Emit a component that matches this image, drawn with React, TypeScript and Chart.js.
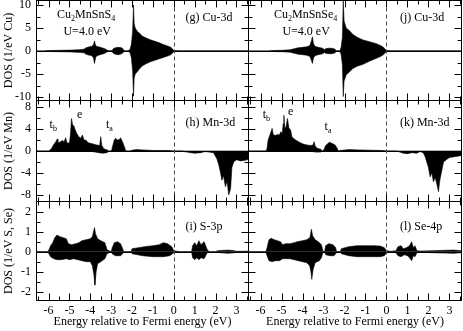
import React, { useEffect, useRef } from 'react';
import { Chart, registerables } from 'chart.js';

Chart.register(...registerables);

const SERIF = '"Liberation Serif", "Times New Roman", serif';

type Pt = [number, number];

// ---------- axes / ticks ----------
const energyTicks = [-6, -5, -4, -3, -2, -1, 0, 1, 2, 3];
const energyMinor = [-6.5, -5.5, -4.5, -3.5, -2.5, -1.5, -0.5, 0.5, 1.5, 2.5, 3.5];
const energyMin = -6.6;
const energyMax = 3.6;

const cuTicks = [-10, -5, 0, 5, 10];
const cuMinor = [-7.5, -2.5, 2.5, 7.5];
const mnTicks = [-8, -4, 0, 4, 8];
const mnMinor = [-6, -2, 2, 6];
const pTicks = [-2, -1, 0, 1, 2];
const pMinor = [-1.5, -0.5, 0.5, 1.5];

// ---------- data (energy eV, DOS) ----------
// (g) Cu-3d in Cu2MnSnS4
const cuS_up: Pt[] = [[-6.6,0],[-6.2,0],[-6.1,0.1],[-5.5,0.15],[-4.9,0.2],[-4.5,0.3],[-4.3,0.4],[-4.2,0.7],[-4.05,0.9],[-3.95,1.0],[-3.85,1.3],[-3.8,2.2],[-3.76,1.4],[-3.7,1.0],[-3.6,0.9],[-3.45,0.7],[-3.3,0.5],[-3.2,0.2],[-3.1,0.05],[-2.95,0.1],[-2.9,0.5],[-2.8,0.7],[-2.65,0.8],[-2.5,0.7],[-2.42,0.4],[-2.38,0.05],[-2.2,0.05],[-2.1,0.3],[-2.03,1.5],[-1.97,4.5],[-1.93,10],[-1.9,6],[-1.85,5],[-1.75,4.3],[-1.65,3.9],[-1.5,3.2],[-1.3,2.8],[-1.1,2.4],[-0.9,2.1],[-0.7,1.8],[-0.5,1.4],[-0.3,1.1],[-0.15,0.8],[-0.05,0.4],[0,0.1],[0.3,0.05],[3.6,0.05]];
const cuS_dn: Pt[] = [[-6.6,0],[-6.2,0],[-6.1,-0.1],[-5.5,-0.15],[-4.9,-0.2],[-4.5,-0.3],[-4.3,-0.4],[-4.2,-0.7],[-4.05,-0.9],[-3.95,-1.0],[-3.85,-1.4],[-3.8,-2.7],[-3.75,-1.5],[-3.7,-1.1],[-3.6,-0.9],[-3.45,-0.7],[-3.3,-0.5],[-3.2,-0.2],[-3.1,-0.05],[-2.95,-0.1],[-2.9,-0.5],[-2.8,-0.7],[-2.65,-0.8],[-2.5,-0.6],[-2.42,-0.3],[-2.38,-0.05],[-2.2,-0.05],[-2.1,-0.3],[-2.03,-1.5],[-1.97,-4.5],[-1.93,-9.8],[-1.9,-6],[-1.85,-5],[-1.75,-4.5],[-1.65,-3.9],[-1.5,-3.2],[-1.3,-2.7],[-1.1,-2.3],[-0.9,-2.0],[-0.7,-1.7],[-0.5,-1.4],[-0.3,-1.1],[-0.15,-0.8],[-0.05,-0.4],[0,-0.1],[0.3,-0.05],[3.6,-0.05]];
// (j) Cu-3d in Cu2MnSnSe4
const cuSe_up: Pt[] = [[-6.6,0],[-5.6,0],[-5.5,0.1],[-5.0,0.15],[-4.6,0.25],[-4.4,0.5],[-4.2,0.7],[-4.0,0.8],[-3.8,0.9],[-3.65,1.2],[-3.58,2.2],[-3.53,3.1],[-3.48,1.6],[-3.4,1.0],[-3.25,0.8],[-3.05,0.6],[-2.95,0.3],[-2.9,0.5],[-2.75,0.6],[-2.6,0.6],[-2.45,0.4],[-2.4,0.05],[-2.22,0.05],[-2.16,0.8],[-2.1,3],[-2.06,11],[-2.02,6.5],[-1.92,5.0],[-1.76,4.4],[-1.6,3.6],[-1.4,3.0],[-1.12,2.4],[-0.8,2.0],[-0.48,1.6],[-0.2,1.0],[-0.05,0.4],[0,0.1],[0.3,0.05],[3.6,0.05]];
const cuSe_dn: Pt[] = [[-6.6,0],[-5.6,0],[-5.5,-0.1],[-5.0,-0.15],[-4.6,-0.25],[-4.4,-0.5],[-4.2,-0.7],[-4.0,-0.8],[-3.8,-0.9],[-3.65,-1.2],[-3.58,-2.0],[-3.53,-2.7],[-3.48,-1.5],[-3.4,-1.0],[-3.25,-0.8],[-3.05,-0.6],[-2.95,-0.3],[-2.9,-0.5],[-2.75,-0.6],[-2.6,-0.6],[-2.45,-0.4],[-2.4,-0.05],[-2.22,-0.05],[-2.16,-0.8],[-2.1,-3],[-2.06,-9.9],[-2.02,-6.5],[-1.92,-5.2],[-1.76,-4.5],[-1.6,-3.8],[-1.4,-3.3],[-1.12,-2.9],[-0.8,-2.2],[-0.48,-1.6],[-0.2,-1.0],[-0.05,-0.4],[0,-0.1],[0.3,-0.05],[3.6,-0.05]];
// (h) Mn-3d in Cu2MnSnS4
const mnS_up: Pt[] = [[-6.6,0],[-6.0,0],[-5.95,0.1],[-5.85,0.5],[-5.75,1.2],[-5.65,1.7],[-5.58,2.2],[-5.55,1.5],[-5.45,1.6],[-5.35,1.9],[-5.25,1.7],[-5.18,2.4],[-5.12,1.5],[-5.0,1.4],[-4.95,3.0],[-4.9,5.9],[-4.85,4.8],[-4.78,4.5],[-4.72,3.8],[-4.65,3.2],[-4.55,2.6],[-4.46,2.3],[-4.38,2.9],[-4.3,2.0],[-4.22,2.0],[-4.1,1.5],[-3.9,1.3],[-3.7,1.1],[-3.55,1.0],[-3.5,2.6],[-3.45,1.0],[-3.35,0.4],[-3.2,0.2],[-3.1,0],[-2.98,0],[-2.95,0.6],[-2.85,2.0],[-2.79,2.3],[-2.7,2.0],[-2.6,2.1],[-2.55,2.4],[-2.45,1.6],[-2.39,1.0],[-2.3,0],[-2.1,0],[-2.0,0.15],[-1.8,0.25],[-1.5,0.2],[-1.0,0.1],[-0.3,0.1],[0,0],[3.6,0]];
const mnS_dn: Pt[] = [[-6.6,0],[-4.0,0],[-3.9,-0.1],[-3.6,-0.3],[-3.4,-0.4],[-3.2,-0.3],[-3.1,0],[0.4,0],[0.5,-0.1],[0.8,-0.3],[1.0,-0.4],[1.3,-0.3],[1.5,-0.1],[1.9,-0.3],[2.0,-1.0],[2.07,-1.5],[2.15,-2.5],[2.23,-3.8],[2.3,-5.3],[2.38,-4.5],[2.47,-6.5],[2.55,-5.5],[2.63,-8.0],[2.67,-7.5],[2.72,-6.8],[2.78,-3.0],[2.87,-2.0],[3.0,-1.6],[3.2,-1.8],[3.4,-1.7],[3.6,-1.5]];
// (k) Mn-3d in Cu2MnSnSe4
const mnSe_up: Pt[] = [[-6.6,0],[-5.75,0],[-5.7,0.3],[-5.64,2.0],[-5.55,3.0],[-5.45,4.1],[-5.4,3.0],[-5.3,2.8],[-5.2,3.0],[-5.1,2.9],[-5.04,3.5],[-4.97,3.2],[-4.92,5.0],[-4.89,6.5],[-4.84,4.1],[-4.78,4.5],[-4.72,5.9],[-4.65,4.2],[-4.57,3.8],[-4.5,2.5],[-4.33,2.0],[-4.15,1.6],[-4.0,1.3],[-3.8,1.1],[-3.6,1.0],[-3.5,1.1],[-3.45,1.7],[-3.4,0.9],[-3.3,0.5],[-3.13,0.3],[-3.05,0],[-2.97,0.3],[-2.9,1.0],[-2.8,1.3],[-2.73,1.6],[-2.6,1.4],[-2.45,1.1],[-2.35,0.5],[-2.3,0],[-2.2,0.1],[-1.8,0.25],[-1.3,0.2],[-0.8,0.15],[-0.2,0.1],[0,0],[3.6,0]];
const mnSe_dn: Pt[] = [[-6.6,0],[-3.6,0],[-3.4,-0.2],[-3.15,-0.2],[-3.05,0],[0.5,0],[0.64,-0.2],[0.8,-0.4],[1.0,-0.5],[1.2,-0.3],[1.44,-0.4],[1.6,-0.1],[1.75,-0.3],[1.84,-1.0],[1.92,-2.0],[2.0,-3.0],[2.08,-4.7],[2.16,-4.0],[2.24,-5.6],[2.32,-4.8],[2.4,-6.0],[2.48,-7.4],[2.52,-6.0],[2.56,-5.0],[2.64,-3.5],[2.72,-2.0],[2.88,-1.5],[3.0,-1.2],[3.3,-1.0],[3.6,-0.8]];
// (i) S-3p
const pS_up: Pt[] = [[-6.6,0],[-6.05,0],[-5.98,0.1],[-5.9,0.3],[-5.8,0.45],[-5.7,0.7],[-5.6,0.83],[-5.45,0.75],[-5.3,0.7],[-5.15,0.65],[-5.05,0.4],[-4.9,0.35],[-4.7,0.4],[-4.55,0.45],[-4.4,0.55],[-4.2,0.6],[-4.0,0.65],[-3.9,0.75],[-3.8,1.2],[-3.75,0.9],[-3.65,0.65],[-3.5,0.55],[-3.3,0.45],[-3.2,0.1],[-3.0,0],[-2.95,0.2],[-2.85,0.45],[-2.7,0.5],[-2.55,0.4],[-2.45,0.15],[-2.4,0],[-2.05,0],[-2.0,0.15],[-1.7,0.2],[-1.4,0.25],[-1.0,0.3],[-0.7,0.35],[-0.5,0.45],[-0.3,0.4],[-0.1,0.25],[0,0.05],[0.3,0],[0.85,0],[0.9,0.3],[1.0,0.45],[1.1,0.3],[1.2,0.55],[1.3,0.35],[1.45,0.5],[1.6,0.1],[1.7,0],[2.0,0],[2.1,0.05],[2.6,0.08],[2.9,0.05],[3.0,0.02],[3.6,0.03]];
const pS_dn: Pt[] = [[-6.6,0],[-6.05,0],[-5.98,-0.1],[-5.9,-0.25],[-5.75,-0.35],[-5.6,-0.4],[-5.4,-0.4],[-5.15,-0.35],[-5.0,-0.4],[-4.8,-0.35],[-4.6,-0.4],[-4.4,-0.45],[-4.2,-0.5],[-4.0,-0.5],[-3.9,-0.7],[-3.82,-1.2],[-3.78,-1.67],[-3.72,-1.0],[-3.65,-0.6],[-3.5,-0.5],[-3.3,-0.35],[-3.2,-0.1],[-3.0,0],[-2.95,-0.1],[-2.8,-0.2],[-2.55,-0.2],[-2.45,-0.1],[-2.4,0],[-2.05,0],[-2.0,-0.1],[-1.5,-0.2],[-1.0,-0.25],[-0.5,-0.25],[-0.2,-0.2],[0,-0.05],[0.3,0],[0.85,0],[0.9,-0.3],[1.0,-0.4],[1.1,-0.3],[1.2,-0.4],[1.3,-0.3],[1.45,-0.35],[1.6,-0.05],[1.7,0],[2.1,0],[2.2,-0.05],[2.6,-0.08],[2.9,-0.05],[3.0,-0.02],[3.6,-0.03]];
// (l) Se-4p
const pSe_up: Pt[] = [[-6.6,0],[-5.75,0],[-5.69,0.2],[-5.6,0.6],[-5.5,0.67],[-5.35,0.6],[-5.2,0.55],[-5.05,0.5],[-4.95,0.35],[-4.8,0.4],[-4.6,0.4],[-4.4,0.45],[-4.25,0.5],[-4.0,0.55],[-3.8,0.6],[-3.65,0.7],[-3.58,1.12],[-3.52,0.8],[-3.4,0.6],[-3.25,0.5],[-3.1,0.35],[-3.02,0],[-2.95,0],[-2.9,0.3],[-2.75,0.4],[-2.55,0.35],[-2.42,0.2],[-2.38,0],[-2.2,0],[-2.15,0.15],[-1.8,0.25],[-1.4,0.3],[-1.0,0.3],[-0.6,0.3],[-0.3,0.28],[-0.1,0.2],[0,0.05],[0.2,0.02],[0.45,0.05],[0.55,0.25],[0.7,0.3],[0.8,0.15],[0.95,0.2],[1.1,0.3],[1.2,0.5],[1.28,0.2],[1.36,0.3],[1.45,0.05],[1.6,0.03],[2.2,0.05],[2.8,0.07],[3.2,0.08],[3.6,0.05]];
const pSe_dn: Pt[] = [[-6.6,0],[-5.75,0],[-5.69,-0.2],[-5.6,-0.45],[-5.45,-0.5],[-5.3,-0.45],[-5.1,-0.45],[-4.95,-0.35],[-4.8,-0.35],[-4.6,-0.35],[-4.4,-0.4],[-4.2,-0.45],[-4.0,-0.5],[-3.8,-0.55],[-3.66,-0.7],[-3.6,-1.0],[-3.56,-1.38],[-3.5,-0.9],[-3.4,-0.55],[-3.2,-0.45],[-3.1,-0.3],[-3.02,0],[-2.95,0],[-2.9,-0.15],[-2.7,-0.2],[-2.5,-0.2],[-2.42,-0.1],[-2.38,0],[-2.2,0],[-2.15,-0.1],[-1.8,-0.2],[-1.4,-0.25],[-1.0,-0.25],[-0.6,-0.25],[-0.3,-0.25],[-0.1,-0.2],[0,-0.05],[0.2,-0.02],[0.45,-0.05],[0.55,-0.2],[0.7,-0.25],[0.85,-0.15],[1.0,-0.2],[1.1,-0.3],[1.2,-0.45],[1.28,-0.2],[1.36,-0.25],[1.45,-0.05],[1.6,-0.03],[2.2,-0.05],[2.8,-0.07],[3.2,-0.08],[3.6,-0.05]];

// ---------- text ----------
type Run = { t: string; sub?: boolean };
type Note = { runs: Run[]; x: number; y: number; align: 'left' | 'center' };

interface PanelSpec {
  col: number;
  row: number;
  up: Pt[];
  dn: Pt[];
  yMin: number;
  yMax: number;
  yTicks: number[];
  yMinor: number[];
  yTitle: string;
  notes: Note[];
}

// canvas boxes for each column / row (page pixels)
const colBox = [
  { x: 0, w: 249, axisW: 36, padR: 0 },
  { x: 248, w: 215, axisW: 0, padR: 1 },
];
const rowBox = [
  { y: 0, h: 101, axisH: 0 },
  { y: 100, h: 102, axisH: 0 },
  { y: 201, h: 130, axisH: 30 },
];

const panels: PanelSpec[] = [
  { col: 0, row: 0, up: cuS_up, dn: cuS_dn, yMin: -10.87, yMax: 11.09, yTicks: cuTicks, yMinor: cuMinor, yTitle: 'DOS (1/eV Cu)',
    notes: [
      { runs: [{ t: 'Cu' }, { t: '2', sub: true }, { t: 'MnSnS' }, { t: '4', sub: true }], x: -4.2, y: 7.8, align: 'center' },
      { runs: [{ t: 'U=4.0 eV' }], x: -4.15, y: 4.1, align: 'center' },
      { runs: [{ t: '(g) Cu-3d' }], x: 0.56, y: 7.2, align: 'left' },
    ] },
  { col: 0, row: 1, up: mnS_up, dn: mnS_dn, yMin: -9.27, yMax: 9.27, yTicks: mnTicks, yMinor: mnMinor, yTitle: 'DOS (1/eV Mn)',
    notes: [
      { runs: [{ t: 't' }, { t: 'b', sub: true }], x: -5.95, y: 4.7, align: 'left' },
      { runs: [{ t: 'e' }], x: -4.51, y: 6.5, align: 'center' },
      { runs: [{ t: 't' }, { t: 'a', sub: true }], x: -3.25, y: 4.7, align: 'left' },
      { runs: [{ t: '(h) Mn-3d' }], x: 0.56, y: 5.1, align: 'left' },
    ] },
  { col: 0, row: 2, up: pS_up, dn: pS_dn, yMin: -2.465, yMax: 2.535, yTicks: pTicks, yMinor: pMinor, yTitle: 'DOS (1/eV S, Se)',
    notes: [{ runs: [{ t: '(i) S-3p' }], x: 0.56, y: 1.24, align: 'left' }] },
  { col: 1, row: 0, up: cuSe_up, dn: cuSe_dn, yMin: -10.87, yMax: 11.09, yTicks: cuTicks, yMinor: cuMinor, yTitle: '',
    notes: [
      { runs: [{ t: 'Cu' }, { t: '2', sub: true }, { t: 'MnSnSe' }, { t: '4', sub: true }], x: -3.85, y: 7.8, align: 'center' },
      { runs: [{ t: 'U=4.0 eV' }], x: -3.83, y: 4.1, align: 'center' },
      { runs: [{ t: '(j) Cu-3d' }], x: 0.64, y: 7.2, align: 'left' },
    ] },
  { col: 1, row: 1, up: mnSe_up, dn: mnSe_dn, yMin: -9.27, yMax: 9.27, yTicks: mnTicks, yMinor: mnMinor, yTitle: '',
    notes: [
      { runs: [{ t: 't' }, { t: 'b', sub: true }], x: -5.9, y: 6.5, align: 'left' },
      { runs: [{ t: 'e' }], x: -4.57, y: 7.1, align: 'center' },
      { runs: [{ t: 't' }, { t: 'a', sub: true }], x: -2.95, y: 4.4, align: 'left' },
      { runs: [{ t: '(k) Mn-3d' }], x: 0.64, y: 5.1, align: 'left' },
    ] },
  { col: 1, row: 2, up: pSe_up, dn: pSe_dn, yMin: -2.465, yMax: 2.535, yTicks: pTicks, yMinor: pMinor, yTitle: '',
    notes: [{ runs: [{ t: '(l) Se-4p' }], x: 0.64, y: 1.24, align: 'left' }] },
];

const FONT_PX = 12;
const SUB_PX = 8;

function drawRuns(ctx: CanvasRenderingContext2D, runs: Run[], x: number, y: number, align: 'left' | 'center') {
  let total = 0;
  for (const r of runs) {
    ctx.font = `${r.sub ? SUB_PX : FONT_PX}px ${SERIF}`;
    total += ctx.measureText(r.t).width;
  }
  let cx = align === 'center' ? x - total / 2 : x;
  ctx.textAlign = 'left';
  ctx.textBaseline = 'middle';
  for (const r of runs) {
    ctx.font = `${r.sub ? SUB_PX : FONT_PX}px ${SERIF}`;
    ctx.fillText(r.t, cx, r.sub ? y + 4 : y);
    cx += ctx.measureText(r.t).width;
  }
}

function seg(ctx: CanvasRenderingContext2D, x1: number, y1: number, x2: number, y2: number) {
  ctx.beginPath();
  ctx.moveTo(x1, y1);
  ctx.lineTo(x2, y2);
  ctx.stroke();
}

function drawDecor(chart: Chart, spec: PanelSpec) {
  const { ctx, chartArea: a } = chart;
  const xs = chart.scales.x;
  const ys = chart.scales.y;
  const L = Math.round(a.left) + 0.5;
  const R = Math.round(a.right) - 0.5;
  const T = Math.round(a.top) + 0.5;
  const B = Math.round(a.bottom) - 0.5;
  ctx.save();
  ctx.lineWidth = 1;
  ctx.strokeStyle = '#000';
  const y0 = Math.round(ys.getPixelForValue(0)) + 0.5;
  seg(ctx, L, y0, R, y0);
  const x0 = Math.round(xs.getPixelForValue(0)) + 0.5;
  ctx.strokeStyle = '#444';
  ctx.setLineDash([4, 3]);
  seg(ctx, x0, T, x0, B);
  ctx.setLineDash([]);
  ctx.strokeStyle = '#000';
  ctx.strokeRect(L, T, R - L, B - T);
  const MAJ = 7;
  const MIN = 4;
  for (const v of energyTicks) {
    const p = Math.round(xs.getPixelForValue(v)) + 0.5;
    seg(ctx, p, B, p, B - MAJ);
    seg(ctx, p, T, p, T + MAJ);
  }
  for (const v of energyMinor) {
    const p = Math.round(xs.getPixelForValue(v)) + 0.5;
    if (p < L || p > R) continue;
    seg(ctx, p, B, p, B - MIN);
    seg(ctx, p, T, p, T + MIN);
  }
  for (const v of spec.yTicks) {
    const p = Math.round(ys.getPixelForValue(v)) + 0.5;
    seg(ctx, L, p, L + MAJ, p);
    seg(ctx, R, p, R - MAJ, p);
  }
  for (const v of spec.yMinor) {
    const p = Math.round(ys.getPixelForValue(v)) + 0.5;
    seg(ctx, L, p, L + MIN, p);
    seg(ctx, R, p, R - MIN, p);
  }
  ctx.fillStyle = '#000';
  for (const n of spec.notes) {
    drawRuns(ctx, n.runs, xs.getPixelForValue(n.x), ys.getPixelForValue(n.y), n.align);
  }
  ctx.restore();
}

function Panel({ spec }: { spec: PanelSpec }) {
  const ref = useRef<HTMLCanvasElement | null>(null);
  const cb = colBox[spec.col];
  const rb = rowBox[spec.row];
  useEffect(() => {
    if (!ref.current) return;
    const showX = rb.axisH > 0;
    const showY = cb.axisW > 0;
    const mk = (pts: Pt[]) => ({
      data: pts.map(([x, y]) => ({ x, y })),
      borderColor: '#000',
      backgroundColor: '#000',
      borderWidth: 0.6,
      pointRadius: 0,
      fill: 'origin',
      tension: 0,
    });
    const zeroPad = (s: any) => {
      s.paddingTop = 0;
      s.paddingBottom = 0;
      s.paddingLeft = 0;
      s.paddingRight = 0;
    };
    const chart = new Chart(ref.current, {
      type: 'line',
      data: { datasets: [mk(spec.up), mk(spec.dn)] as any },
      options: {
        responsive: false,
        animation: false,
        devicePixelRatio: 1,
        events: [],
        layout: { autoPadding: false, padding: { left: 0, right: cb.padR, top: 0, bottom: 0 } },
        plugins: { legend: { display: false }, tooltip: { enabled: false } },
        scales: {
          x: {
            type: 'linear',
            min: energyMin,
            max: energyMax,
            display: showX,
            grid: { display: false, drawTicks: false },
            border: { display: false },
            afterBuildTicks: (s: any) => { s.ticks = energyTicks.map((value) => ({ value })); },
            afterFit: (s: any) => { s.height = rb.axisH; zeroPad(s); },
            ticks: {
              autoSkip: false,
              maxRotation: 0,
              padding: 3,
              color: '#000',
              font: { family: SERIF, size: 12 },
              callback: (v: any) => String(v),
            },
            title: {
              display: showX,
              text: 'Energy relative to Fermi energy (eV)',
              color: '#000',
              font: { family: SERIF, size: 12 },
              padding: { top: 0, bottom: 2 },
            },
          },
          y: {
            type: 'linear',
            min: spec.yMin,
            max: spec.yMax,
            display: showY,
            grid: { display: false, drawTicks: false },
            border: { display: false },
            afterBuildTicks: (s: any) => { s.ticks = spec.yTicks.map((value) => ({ value })); },
            afterFit: (s: any) => { s.width = cb.axisW; zeroPad(s); },
            ticks: {
              autoSkip: false,
              padding: 5,
              color: '#000',
              font: { family: SERIF, size: 12 },
              callback: (v: any) => String(v),
            },
            title: {
              display: showY,
              text: spec.yTitle,
              color: '#000',
              font: { family: SERIF, size: 12 },
              padding: { top: 2, bottom: 0 },
            },
          },
        },
      },
      plugins: [{ id: 'decor' + spec.col + spec.row, afterDatasetsDraw: (c: Chart) => drawDecor(c, spec) }],
    } as any);
    return () => chart.destroy();
  }, [spec]);
  return (
    <canvas
      ref={ref}
      width={cb.w}
      height={rb.h}
      style={{ position: 'absolute', left: cb.x, top: rb.y, width: cb.w, height: rb.h }}
    />
  );
}

export default function App() {
  return (
    <div style={{ position: 'fixed', left: 0, top: 0, width: 463, height: 331, background: '#fff', overflow: 'hidden' }}>
      {panels.map((p) => (
        <Panel key={`${p.col}-${p.row}`} spec={p} />
      ))}
    </div>
  );
}
